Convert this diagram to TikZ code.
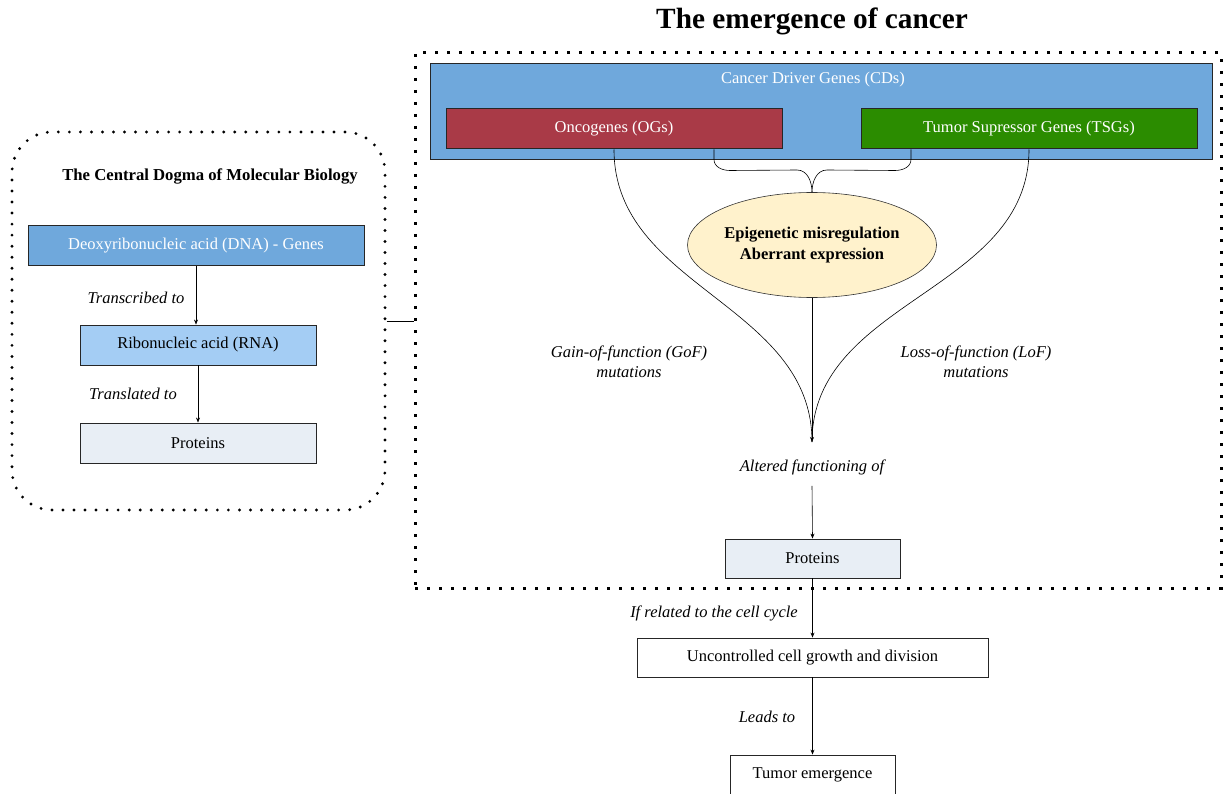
\documentclass[tikz,border=0pt]{standalone}
\usepackage{fontspec}
\setmainfont{Liberation Serif}
\usetikzlibrary{arrows.meta, positioning, calc, shapes.geometric}
\definecolor{cdblue}{HTML}{6FA8DC}
\definecolor{ogred}{HTML}{A93A47}
\definecolor{tsggreen}{HTML}{2B8C00}
\definecolor{rnablue}{HTML}{A4CDF4}
\definecolor{protgray}{HTML}{E8EEF5}
\definecolor{epiyellow}{HTML}{FFF2CC}

\begin{document}
\begin{tikzpicture}[
	x=1pt, y=-1pt,
	font=\fontsize{16.5}{19.5}\selectfont,
	>={Stealth[length=5pt, width=4pt]},
	genebox/.style={draw=black!85, line width=1pt, minimum height=40pt, inner sep=0pt, text=white},
	plainbox/.style={draw=black!85, line width=0.9pt, minimum height=40pt, inner sep=0pt},
	lbl/.style={font=\itshape\fontsize{16.5}{19.5}\selectfont, align=center, inner sep=2pt},
	flow/.style={->, line width=0.6pt},
	link/.style={line width=0.6pt}
	]
	\useasboundingbox (0,0) rectangle (1223,794);
	
	% --------------------------------------------------
	% Left panel: central dogma
	% --------------------------------------------------
	\node[draw, line width=3.2pt, line cap=round, dash pattern=on 0pt off 11.025pt,
	rounded corners=40pt, minimum width=373pt, minimum height=378pt] (dogma) at (198.5,321) {};
	
	\node[font=\bfseries\fontsize{16.7}{19.5}\selectfont] (dogtitle) at (210,176)
	{The Central Dogma of Molecular Biology};
	
	\node[genebox, fill=cdblue, minimum width=336pt] (dna) at (196,246)
	{Deoxyribonucleic acid (DNA) - Genes};
	\node[plainbox, fill=rnablue, minimum width=236pt] (rna) at (198,345)
	{Ribonucleic acid (RNA)};
	\node[plainbox, fill=protgray, minimum width=236pt] (prot1) at (198,443)
	{Proteins};
	
	\draw[flow] (dna.south) -- (dna.south |- rna.north);
	\draw[flow] (rna.south) -- (prot1.north);
	\node[lbl] (transcribed) at (136,298) {Transcribed to};
	\node[lbl] (translated) at (133,394) {Translated to};
	
	% --------------------------------------------------
	% Right panel: emergence of cancer
	% --------------------------------------------------
	\node[font=\bfseries\fontsize{29.3}{33}\selectfont] (title) at (812,21)
	{The emergence of cancer};
	
	\node[draw, line width=3pt, dash pattern=on 3pt off 9pt,
	minimum width=806pt, minimum height=535pt] (cancer) at (818,320.5) {};
	
	\draw[link] (dogma.east) -- (dogma.east -| cancer.west);
	
	\node[draw=black!85, line width=1pt, fill=cdblue, minimum width=782pt, minimum height=96pt] (cds) at (821,112) {};
	\node[text=white] (cdstitle) at (813,80) {Cancer Driver Genes (CDs)};
	
	\node[genebox, fill=ogred, minimum width=336pt] (og) at (614,129) {Oncogenes (OGs)};
	\node[genebox, fill=tsggreen, minimum width=336pt] (tsg) at (1029,129) {Tumor Supressor Genes (TSGs)};
	
	\node[ellipse, draw=black!80, line width=0.6pt, fill=epiyellow, minimum width=249pt, minimum height=105pt,
	inner sep=0pt, align=center, font=\bfseries\fontsize{16.5}{21}\selectfont] (epi) at (812,245)
	{Epigenetic misregulation\\Aberrant expression};
	
	% brace into the ellipse
	\draw[link] ([xshift=100pt]og.south) -- ++(0,10) to[out=-90, in=180] ++(16,11) -- (797,170)
	to[out=0, in=90] (epi.north);
	\draw[link] ([xshift=-118pt]tsg.south) -- ++(0,10) to[out=-90, in=0] ++(-16,11) -- (827,170)
	to[out=180, in=90] (epi.north);
	
	\coordinate (conv) at (812,442);
	\draw[link] (og.south) to[out=-90, in=90] (conv);
	\draw[link] (tsg.south) to[out=-90, in=90] (conv);
	\draw[flow] (epi.south) -- (conv);
	
	\node[lbl] (gof) at (629,362) {Gain-of-function (GoF)\\mutations};
	\node[lbl] (lof) at (976,362) {Loss-of-function (LoF)\\mutations};
	
	\node[lbl] (altered) at (812,467) {Altered functioning of};
	
	\node[plainbox, fill=protgray, minimum width=175pt, minimum height=39pt] (prot2) at (812.5,558.5) {Proteins};
	\draw[flow] (altered.south) ++(0,9) -- (prot2.north);
	
	% --------------------------------------------------
	% Consequences
	% --------------------------------------------------
	\node[plainbox, fill=white, minimum width=351pt, minimum height=39pt] (growth) at (812.5,657.5)
	{Uncontrolled cell growth and division};
	\node[plainbox, fill=white, minimum width=165pt] (tumor) at (812.5,775) {Tumor emergence};
	
	\draw[flow] (prot2.south) -- (growth.north);
	\draw[flow] (growth.south) -- (tumor.north);
	\node[lbl] (ifrel) at (714,613) {If related to the cell cycle};
	\node[lbl] (leads) at (767,717) {Leads to};
	
\end{tikzpicture}
\end{document}
